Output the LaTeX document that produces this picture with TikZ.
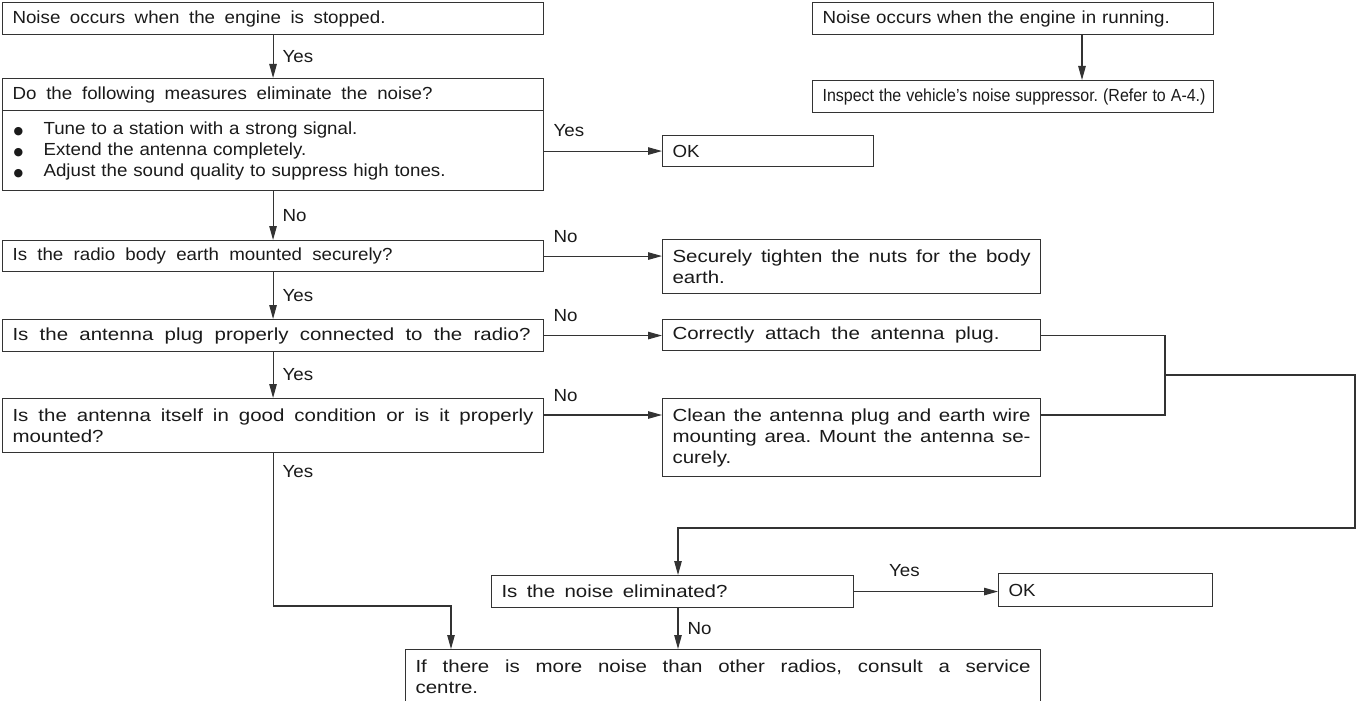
\documentclass[tikz,border=0pt]{standalone}
\usepackage{graphicx}
\usepackage{fontspec}
\setmainfont[FakeStretch=1.07]{Liberation Sans}
\newfontfamily\widef[FakeStretch=1.17]{Liberation Sans}
\newfontfamily\symf{DejaVu Sans}
\usetikzlibrary{arrows.meta}
\definecolor{lc}{HTML}{333333}
\definecolor{tc}{HTML}{1A1A1A}
\newcommand\fcfont{\fontsize{17.5}{21}\selectfont\frenchspacing}
\newcommand\fcwide{\widef\fontsize{17.5}{21}\selectfont\frenchspacing}
\newcommand\bul{\makebox[31pt][l]{\hspace{1pt}{\symf\fontsize{11}{11}\selectfont ●}}}
\def\spreadwords#1 #2\end{#1\ifx\relax#2\relax\else\hskip 0.22em plus 1fil minus 0.1em\relax\spreadwords#2\end\fi}
\newcommand\spread[2]{\hbox to #1pt{\widef\spreadwords#2 \end}}
\newcommand\spreadn[2]{\hbox to #1pt{\spreadwords#2 \end}}
\begin{document}
\begin{tikzpicture}[x=1pt,y=-1pt,
  box/.style={draw=lc, line width=1.1pt, rectangle, anchor=north west, inner xsep=10pt, inner ysep=0pt, font=\fcfont, text=tc, align=left},
  jbox/.style={box, align=justify, font=\fcwide},
  arr/.style={draw=lc, line width=1.1pt, -{Triangle[length=14pt,width=7.5pt]}},
  con/.style={draw=lc, line width=1.1pt},
  lbl/.style={font=\fcfont, text=tc, inner sep=2pt},
  hl/.style={lbl, pos=0, anchor=south west, xshift=7pt, yshift=11pt},
  vl/.style={lbl, midway, right=7pt}]

\useasboundingbox (0,0) rectangle (1361,701);

% left column
\node[box, minimum width=541pt, minimum height=32pt, text width=521pt] (A) at (2,2) {\spreadn{373}{Noise occurs when the engine is stopped.}};
\node[box, minimum width=541pt, minimum height=32pt, text width=521pt] (B1) at (2,78) {\spreadn{420}{Do the following measures eliminate the noise?}};
\node[box, minimum width=541pt, minimum height=80pt, text width=521pt] (B2) at (2,110) {\bul Tune to a station with a strong signal.\\ \bul Extend the antenna completely.\\ \bul Adjust the sound quality to suppress high tones.};
\node[box, minimum width=541pt, minimum height=31pt, text width=521pt] (C) at (2,240) {\spreadn{380}{Is the radio body earth mounted securely?}};
\node[box, minimum width=541pt, minimum height=32pt, text width=521pt] (D) at (2,319) {\spread{518}{Is the antenna plug properly connected to the radio?}};
\node[jbox, minimum width=541pt, minimum height=54pt, text width=521pt] (E) at (2,398) {Is the antenna itself in good condition or is it properly\linebreak mounted?};

% middle column
\node[box, minimum width=211pt, minimum height=31pt, text width=191pt] (OK1) at (662,135) {OK};
\node[jbox, minimum width=378pt, minimum height=54pt, text width=358pt] (S) at (662,239) {Securely tighten the nuts for the body\linebreak earth.};
\node[box, minimum width=378pt, minimum height=31pt, text width=358pt] (CA) at (662,319) {\spread{327}{Correctly attach the antenna plug.}};
\node[jbox, minimum width=378pt, minimum height=78pt, text width=358pt] (CL) at (662,398) {Clean the antenna plug and earth wire\linebreak mounting area. Mount the antenna se-\linebreak curely.};

% bottom
\node[box, minimum width=362pt, minimum height=32pt, text width=342pt] (G) at (491,575) {\spread{226}{Is the noise eliminated?}};
\node[box, minimum width=214pt, minimum height=33pt, text width=194pt] (OK2) at (998,573) {OK};
\node[jbox, minimum width=635pt, minimum height=54pt, text width=615pt] (F) at (405,649) {If there is more noise than other radios, consult a service\linebreak centre.};

% top right
\node[box, minimum width=401pt, minimum height=32pt, text width=381pt] (R1) at (812,2) {Noise occurs when the engine in running.};
\node[box, minimum width=401pt, minimum height=32pt, text width=381pt] (R2) at (812,80) {\resizebox{383pt}{\height}{Inspect the vehicle’s noise suppressor. (Refer to A-4.)}};

% helper coordinates
\coordinate (rx) at (1082,0);
\coordinate (gx) at (678,0);
\coordinate (j) at (1165,375);
\coordinate (rr) at (1355,528);
\coordinate (fl) at (451,606);

% connectors
\draw[arr] (A.south) -- (B1.north) node[vl]{Yes};
\draw[arr] (OK1.west -| B2.east) -- (OK1.west) node[hl, yshift=1pt]{Yes};
\draw[arr] (B2.south) -- (C.north) node[vl]{No};
\draw[arr] (C.east) -- (C.east -| S.west) node[hl]{No};
\draw[arr] (C.south) -- (D.north) node[vl]{Yes};
\draw[arr] (D.east) -- (D.east -| CA.west) node[hl]{No};
\draw[arr] (D.south) -- (E.north) node[vl]{Yes};
\draw[arr] ([yshift=-17pt]E.north east) -- ([yshift=-17pt]CL.north west) node[hl]{No};
\draw[arr] (E.south) |- (fl) node[lbl, pos=0, anchor=north west, xshift=7pt, yshift=-10pt]{Yes} -- (fl |- F.north);

\draw[con] (CA.east) -| (j);
\draw[con] ([yshift=-17pt]CL.north east) -| (j);
\draw[arr] (j) -- (j -| rr) -- (rr) -- (rr -| gx) -- (G.north -| gx);

\draw[arr] (G.east) -- (G.east -| OK2.west) node[lbl, pos=0.35, above=12pt]{Yes};
\draw[arr] (G.south -| gx) -- (F.north -| gx) node[vl]{No};

\draw[arr] (R1.south -| rx) -- (R2.north -| rx);
\end{tikzpicture}
\end{document}
